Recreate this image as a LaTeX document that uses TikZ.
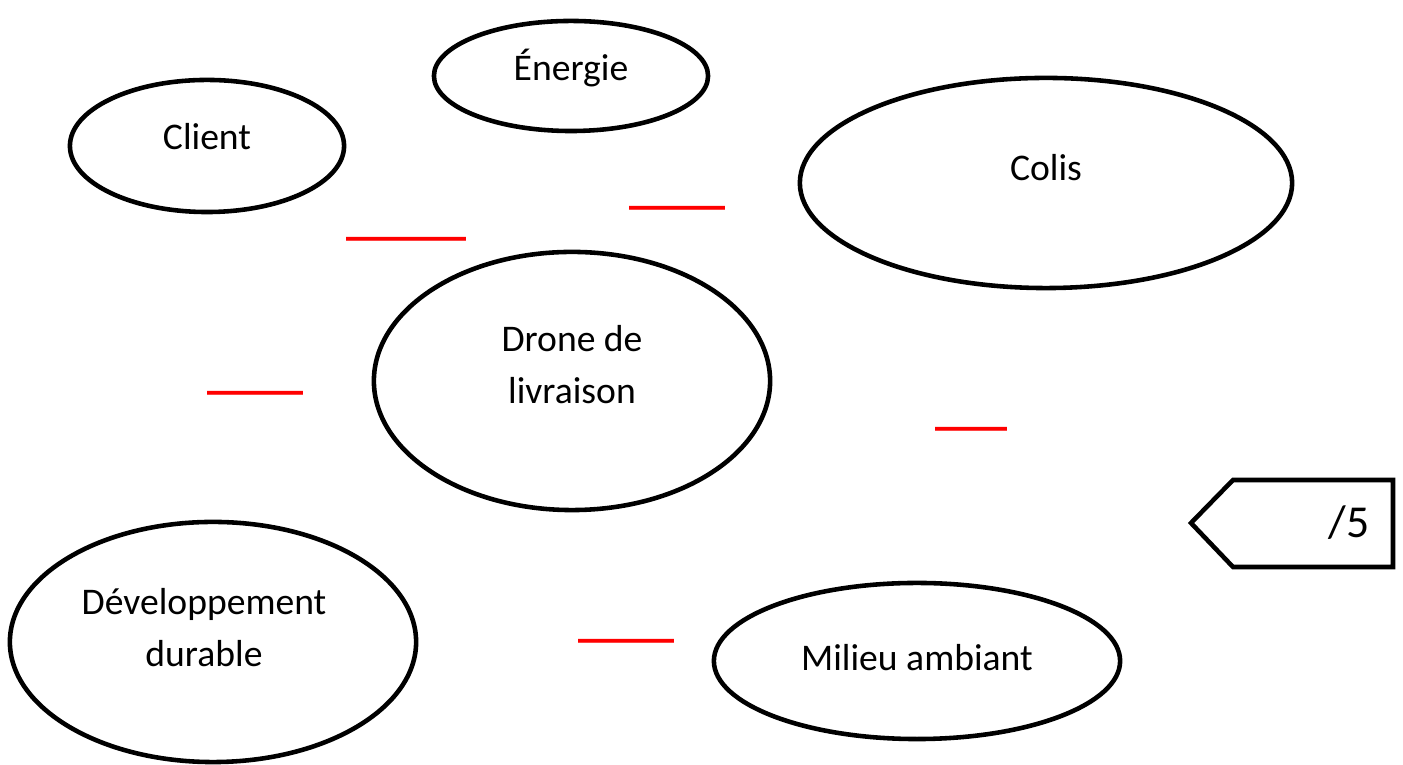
\documentclass[tikz,border=0pt]{standalone}
\usepackage{fontspec}
\setmainfont{Carlito}
\usetikzlibrary{shapes.geometric}
\begin{document}
\begin{tikzpicture}[x=0.01cm,y=-0.01cm,
  oval/.style={draw,ellipse,line width=1.3pt,inner sep=0pt},
  lbl/.style={font=\fontsize{10.7}{14.8}\selectfont,align=center,inner sep=0pt,anchor=base},
  blank/.style={text=red,font=\bfseries\fontsize{13.7}{14}\selectfont,inner sep=0pt,anchor=south west}]
\useasboundingbox (0,0) rectangle (1403,765);
\node[oval,minimum width=2.74cm,minimum height=1.10cm] (energie) at (571,76) {};
\node[oval,minimum width=2.74cm,minimum height=1.32cm] (client) at (207,146) {};
\node[oval,minimum width=4.92cm,minimum height=2.10cm] (colis) at (1046,183) {};
\node[oval,minimum width=3.96cm,minimum height=2.58cm] (drone) at (572,381) {};
\node[oval,minimum width=4.06cm,minimum height=2.40cm] (dev) at (213,642) {};
\node[oval,minimum width=4.06cm,minimum height=1.56cm] (milieu) at (917,661) {};
\node[lbl] (energieT) at (571,81) {Énergie};
\node[lbl] (clientT) at (207,150) {Client};
\node[lbl] (colisT) at (1046,181) {Colis};
\node[lbl] (droneT) at (572,404) {Drone de\\livraison};
\node[lbl] (devT) at (204,667) {Développement\\durable};
\node[lbl] (milieuT) at (917,671) {Milieu ambiant};
\node[blank] (b1) at (346,242) {\_\_\_\_\_};
\node[blank] (b2) at (629,211) {\_\_\_\_};
\node[blank] (b3) at (207,396) {\_\_\_\_};
\node[blank] (b4) at (935,432) {\_\_\_};
\node[blank] (b5) at (578,644) {\_\_\_\_};
\draw[line width=1.3pt,line join=miter] (1191,523) -- (1233,480) -- (1393,480) -- (1393,567) -- (1233,567) -- cycle;
\node[font=\fontsize{13}{15}\selectfont,inner sep=0pt,anchor=base] (score) at (1349,538) {/5};
\end{tikzpicture}
\end{document}
